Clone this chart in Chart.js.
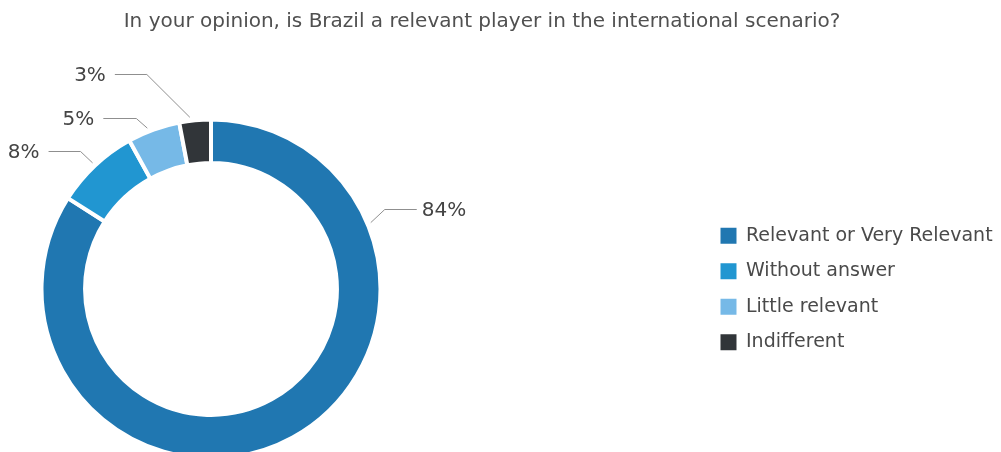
<!DOCTYPE html>
<html>
<head>
<meta charset="utf-8">
<title>Brazil as an international player</title>
<script src="https://cdn.jsdelivr.net/npm/chart.js@4.4.1/dist/chart.umd.min.js"></script>
<style>
    html, body { margin: 0; padding: 0; background: #fff; width: 1001px; height: 452px; overflow: hidden; }
    #wrap { position: absolute; top: 0; }
</style>
</head>
<body>
<div id="wrap"><canvas id="opinionChart"></canvas></div>
<script>
const chartTitle = 'In your opinion, is Brazil a relevant player in the international scenario?';
const categories = ['Relevant or Very Relevant', 'Without answer', 'Little relevant', 'Indifferent'];
const shares = [84, 8, 5, 3];
const sliceColors = ['#2077b1', '#2196d1', '#76b9e7', '#313539'];

// page geometry
const CENTER_X = 211;          // ring centre on the page
const LEGEND_LEFT = 704;       // left edge of the legend box on the page
const TITLE_CENTER = 482;
const LEGEND_PAD = 16.5;

// the chart area has to be symmetric round the ring, so the canvas starts left of the page
const canvasLeft = 2 * CENTER_X - LEGEND_LEFT;
const canvasWidth = 2 * (TITLE_CENTER - canvasLeft);
const canvasHeight = 462;

const wrap = document.getElementById('wrap');
wrap.style.left = canvasLeft + 'px';
const canvas = document.getElementById('opinionChart');
canvas.width = canvasWidth;
canvas.height = canvasHeight;
canvas.style.width = canvasWidth + 'px';
canvas.style.height = canvasHeight + 'px';

Chart.defaults.font.family = "'DejaVu Sans', sans-serif";
Chart.defaults.color = '#4f4f4f';

// percentage labels with elbow leader lines
const leaderLabels = {
    id: 'leaderLabels',
    afterDatasetsDraw(chart, args, opts) {
        const ctx = chart.ctx;
        const meta = chart.getDatasetMeta(0);
        const values = chart.data.datasets[0].data;
        ctx.save();
        ctx.font = opts.font;
        ctx.textBaseline = 'middle';
        meta.data.forEach((arc, i) => {
            const lay = opts.layout[i];
            const p = arc.getProps(['x', 'y', 'startAngle', 'endAngle', 'outerRadius'], true);
            const a = p.startAngle + lay.at * (p.endAngle - p.startAngle);
            const r = p.outerRadius + opts.gap;
            const x0 = p.x + Math.cos(a) * r;
            const y0 = p.y + Math.sin(a) * r;
            const x1 = x0 + lay.dx;
            const y1 = Math.round(y0 + lay.dy) + 0.5;
            const dir = lay.dx >= 0 ? 1 : -1;
            const x2 = x1 + dir * lay.len;

            ctx.strokeStyle = opts.lineColor;
            ctx.lineWidth = 1;
            ctx.beginPath();
            ctx.moveTo(x0, y0);
            ctx.lineTo(x1, y1);
            ctx.lineTo(x2, y1);
            ctx.stroke();

            ctx.fillStyle = opts.color;
            ctx.textAlign = dir > 0 ? 'left' : 'right';
            ctx.fillText(values[i] + '%', x2 + dir * (dir > 0 ? 5 : 9), y1 + 1);
        });
        ctx.restore();
    }
};

const chart = new Chart(canvas, {
    type: 'doughnut',
    data: {
        labels: categories,
        datasets: [{
            data: shares,
            backgroundColor: sliceColors,
            borderColor: '#ffffff',
            borderWidth: 4,
            radius: 169.5,
            cutout: '74.3%'
        }]
    },
    options: {
        responsive: false,
        animation: false,
        events: [],
        layout: {
            padding: { left: 0, right: 0, top: 0, bottom: 5 }
        },
        plugins: {
            title: {
                display: true,
                text: chartTitle,
                color: '#505050',
                font: { size: 20, weight: 'normal' },
                padding: { top: 10, bottom: 87 }
            },
            legend: {
                position: 'right',
                align: 'center',
                fullSize: false,
                labels: {
                    boxWidth: 16,
                    boxHeight: 16,
                    padding: LEGEND_PAD,
                    color: '#4a4a4a',
                    font: { size: 19 },
                    generateLabels(c) {
                        const items = Chart.overrides.doughnut.plugins.legend.labels.generateLabels(c);
                        items.forEach(it => { it.lineWidth = 0; });
                        return items;
                    }
                }
            },
            tooltip: { enabled: false },
            leaderLabels: {
                font: "20px 'DejaVu Sans', sans-serif",
                color: '#444444',
                lineColor: '#8f8f8f',
                gap: 3.5,
                layout: [
                    { at: 0.223, dx: 14, dy: -14, len: 32 },
                    { at: 0.5, dx: -12, dy: -12, len: 32 },
                    { at: 0.4, dx: -11, dy: -10, len: 33 },
                    { at: 0.35, dx: -43, dy: -43, len: 32 }
                ]
            }
        }
    },
    plugins: [leaderLabels]
});

// widen the legend box so it reaches the canvas edge and starts at LEGEND_LEFT
const legendFit = chart.legend.fit;
chart.legend.fit = function () {
    legendFit.call(this);
    this.width = canvasWidth - (LEGEND_LEFT - canvasLeft);
};
chart.update();
</script>
</body>
</html>
